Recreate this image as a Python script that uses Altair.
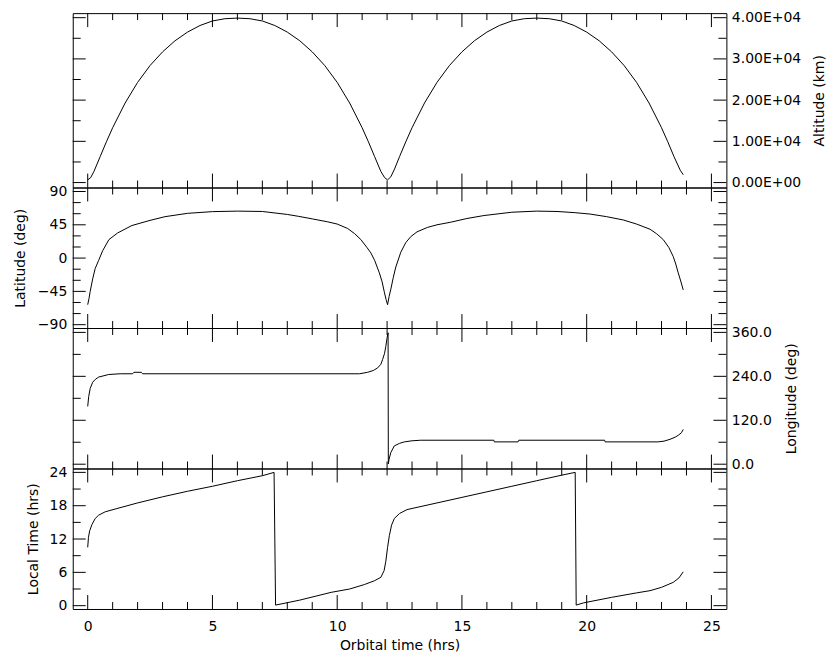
import altair as alt
import pandas as pd

# ---------------- data ----------------
t_alt = [0.0, 0.12, 0.25, 0.5, 0.75, 1.0, 1.5, 2.0, 2.5, 3.0, 3.5, 4.0, 4.5, 5.0, 5.5, 6.0,
         6.5, 7.0, 7.5, 8.0, 8.5, 9.0, 9.5, 10.0, 10.5, 11.0, 11.25, 11.5, 11.75, 11.9, 12.02,
         12.15, 12.3, 12.5, 12.75, 13.0, 13.5, 14.0, 14.5, 15.0, 15.5, 16.0, 16.5, 17.0, 17.5,
         18.0, 18.5, 19.0, 19.5, 20.0, 20.5, 21.0, 21.5, 22.0, 22.5, 23.0, 23.25, 23.5, 23.75, 23.87]
altitude = [650, 1200, 2700, 6300, 9900, 13300, 19300, 24300, 28400, 31700, 34400, 36500, 38100,
            39200, 39750, 39900, 39750, 39200, 38100, 36500, 34400, 31700, 28400, 24300, 19300,
            13300, 9900, 6300, 2700, 1200, 650, 1400, 3300, 6300, 9900, 13300, 19300, 24300,
            28400, 31700, 34400, 36500, 38100, 39200, 39750, 39900, 39750, 39200, 38100, 36500,
            34400, 31700, 28400, 24300, 19300, 13300, 9900, 6300, 3000, 1900]

t_lat = [0.0, 0.05, 0.1, 0.2, 0.3, 0.44, 0.6, 0.85, 1.2, 1.77, 2.5, 3.1, 4.0, 5.0, 6.0, 7.0,
         8.0, 8.44, 9.0, 9.62, 10.0, 10.42, 10.7, 10.95, 11.2, 11.35, 11.5, 11.69, 11.8, 11.89,
         11.96, 12.02, 12.08, 12.15, 12.25, 12.35, 12.55, 12.75, 12.95, 13.2, 13.62, 14.0,
         14.55, 15.2, 15.88, 17.0, 18.0, 18.81, 19.5, 20.14, 20.8, 21.47, 22.0, 22.54, 22.8,
         23.07, 23.3, 23.47, 23.57, 23.67, 23.77, 23.87]
latitude = [-63, -55, -45, -28, -14, -3, 10, 25, 34, 44, 51, 56, 60.5, 62.8, 63.5, 63,
            59, 56.5, 53, 49, 46, 40, 33, 25, 14, 7, -3, -20, -32, -46,
            -56, -63, -52, -42, -26, -12, 8, 21, 29, 35.5, 41.5, 45,
            48.5, 53.5, 57.5, 62, 63.5, 63, 61.5, 59.5, 56, 51.5, 46, 39, 33,
            25, 14, 2, -8, -20, -31, -43]

t_lon = [0.0, 0.04, 0.1, 0.2, 0.31, 0.44, 0.84, 1.3, 1.8, 1.85, 2.15, 2.2, 10.9, 11.22, 11.45,
         11.62, 11.75, 11.82, 11.9, 11.95, 12.0, 12.04, 12.05, 12.08, 12.15, 12.29, 12.5, 12.69,
         13.0, 13.35, 16.28, 16.3, 17.25, 17.28, 20.72, 20.74, 22.85, 23.1, 23.34, 23.55, 23.67,
         23.8, 23.87]
longitude = [158, 185, 207, 224, 232, 238, 245, 247, 247, 251, 251, 247, 247, 251, 256,
             263, 273, 286, 303, 322, 345, 359, 1, 14, 32, 50, 57, 61,
             64, 65.5, 65.5, 61, 61, 65.5, 65.5, 61, 61, 63, 68, 74, 79,
             86, 95]

t_lt = [0.0, 0.03, 0.08, 0.17, 0.3, 0.44, 0.7, 1.1, 2.0, 3.0, 4.0, 5.0, 6.0, 7.0, 7.47, 7.53,
        8.5, 9.76, 10.5, 11.09, 11.5, 11.75, 11.88, 11.95, 12.02, 12.09, 12.18, 12.29, 12.5,
        12.8, 13.2, 14.0, 15.0, 16.0, 17.0, 18.0, 19.0, 19.54, 19.58, 19.87, 21.0, 22.0, 22.54,
        23.0, 23.47, 23.7, 23.87]
local_time = [10.5, 12.3, 13.5, 14.6, 15.7, 16.3, 16.9, 17.4, 18.5, 19.6, 20.6, 21.5, 22.5, 23.4, 24.0, 0.1,
              1.0, 2.4, 3.0, 3.8, 4.5, 5.1, 6.3, 8.0, 10.5, 12.6, 14.5, 15.7, 16.6,
              17.3, 17.7, 18.5, 19.5, 20.5, 21.5, 22.5, 23.5, 24.0, 0.1, 0.5, 1.5, 2.3, 2.7,
              3.3, 4.2, 5.0, 6.1]

# tick values
x_major = [0, 5, 10, 15, 20, 25]
x_minor = [1, 2, 3, 4, 6, 7, 8, 9, 11, 12, 13, 14, 16, 17, 18, 19, 21, 22, 23, 24]
alt_major = [0, 10000, 20000, 30000, 40000]
alt_minor = [5000, 15000, 25000, 35000]
lat_major = [-90, -45, 0, 45, 90]
lat_minor = [-75, -60, -30, -15, 15, 30, 60, 75]
lon_major = [0, 120, 240, 360]
lon_minor = [60, 180, 300]
lt_major = [0, 6, 12, 18, 24]
lt_minor = [3, 9, 15, 21]

# ---------------- chart ----------------
W = 656
FONT = "DejaVu Sans"
X_SCALE = alt.Scale(domain=[-0.6, 25.6], nice=False, zero=False)


def frame(t, v, name):
    return pd.DataFrame({"t": t, name: v, "i": list(range(len(t)))})


def panel(df, field, ydom, h, ymaj, ymin, yaxis, show_x):
    yscale = alt.Scale(domain=ydom, nice=False, zero=False)
    if show_x:
        xaxis = alt.Axis(values=x_major, tickSize=0, domain=False, grid=False,
                         labelPadding=11, labelFlush=False, title="Orbital time (hrs)",
                         titlePadding=5)
    else:
        xaxis = None
    line = alt.Chart(df).mark_line(color="black", strokeWidth=1).encode(
        x=alt.X("t:Q", scale=X_SCALE, axis=xaxis),
        y=alt.Y(f"{field}:Q", scale=yscale, axis=yaxis),
        order=alt.Order("i:Q"),
    )
    layers = [line]
    for vals, ln in ((x_major, 14), (x_minor, 7)):
        d = pd.DataFrame({"t": vals})
        base = alt.Chart(d).mark_rule(color="black", strokeWidth=1)
        layers.append(base.encode(x=alt.X("t:Q", scale=X_SCALE, axis=xaxis),
                                  y=alt.value(0), y2=alt.value(ln)))
        layers.append(base.encode(x=alt.X("t:Q", scale=X_SCALE, axis=xaxis),
                                  y=alt.value(h), y2=alt.value(h - ln)))
    for vals, ln in ((ymaj, 13), (ymin, 8)):
        d = pd.DataFrame({field: vals})
        base = alt.Chart(d).mark_rule(color="black", strokeWidth=1)
        layers.append(base.encode(y=alt.Y(f"{field}:Q", scale=yscale, axis=yaxis),
                                  x=alt.value(0), x2=alt.value(ln)))
        layers.append(base.encode(y=alt.Y(f"{field}:Q", scale=yscale, axis=yaxis),
                                  x=alt.value(W), x2=alt.value(W - ln)))
    return alt.layer(*layers).properties(width=W, height=h)


common = dict(tickSize=0, domain=False, grid=False, labelFlush=False, labelOverlap=False)

ax_alt = alt.Axis(orient="right", values=alt_major, labelPadding=5, title="Altitude (km)",
                  titleAngle=270, titleBaseline="top", titlePadding=12,
                  labelExpr="datum.value == 0 ? '0.00E+00' : format(datum.value / 10000, '.2f') + 'E+04'",
                  **common)
ax_lat = alt.Axis(orient="left", values=lat_major, labelPadding=6, title="Latitude (deg)",
                  titlePadding=10, format="d", **common)
ax_lon = alt.Axis(orient="right", values=lon_major, labelPadding=5, title="Longitude (deg)",
                  titleAngle=270, titleBaseline="top", titlePadding=13, format=".1f", **common)
ax_lt = alt.Axis(orient="left", values=lt_major, labelPadding=6, title="Local Time (hrs)",
                 titlePadding=9, format="d", **common)

p1 = panel(frame(t_alt, altitude, "alt"), "alt", [-1200, 41100], 175, alt_major, alt_minor, ax_alt, False)
p2 = panel(frame(t_lat, latitude, "lat"), "lat", [-94.5, 95.4], 141, lat_major, lat_minor, ax_lat, False)
p3 = panel(frame(t_lon, longitude, "lon"), "lon", [-11.7, 372], 141, lon_major, lon_minor, ax_lon, False)
p4 = panel(frame(t_lt, local_time, "lt"), "lt", [-0.6, 24.7], 141, lt_major, lt_minor, ax_lt, True)

chart = alt.vconcat(p1, p2, p3, p4, spacing=0, bounds="flush").properties(
    padding={"left": 12, "top": 9, "right": 5, "bottom": 5},
    background="white",
).configure_view(stroke="black", strokeWidth=1).configure_axis(
    labelFont=FONT, labelFontSize=14, labelColor="black",
    titleFont=FONT, titleFontSize=14, titleFontWeight="normal", titleColor="black",
).configure_concat(spacing=0)

chart.save("out.html", embed_options={"renderer": "svg", "actions": False})
